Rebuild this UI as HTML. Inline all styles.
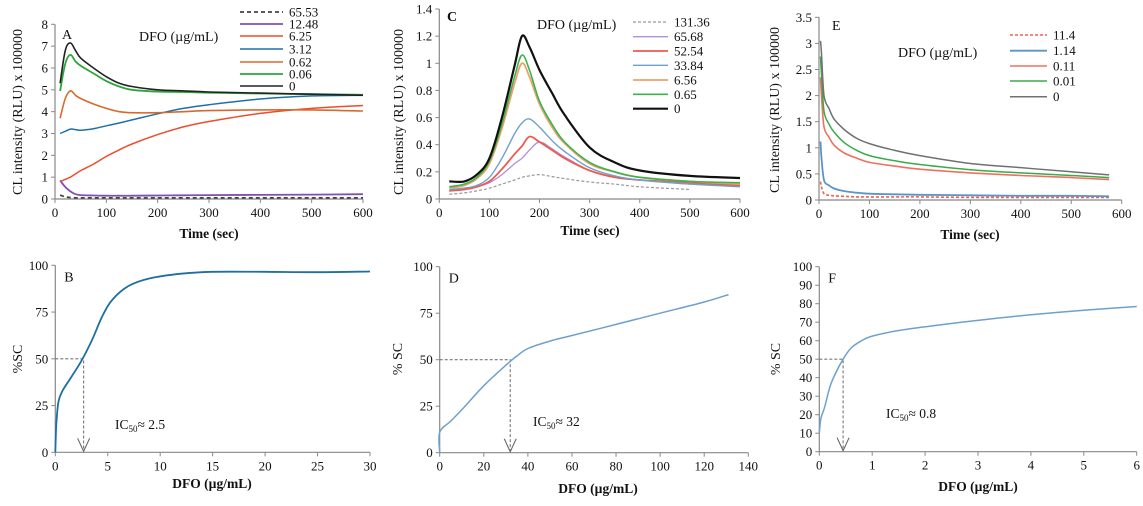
<!DOCTYPE html>
<html><head><meta charset="utf-8"><style>
html,body{margin:0;padding:0;background:#fff;width:1143px;height:506px;overflow:hidden}
svg{display:block;font-family:"Liberation Serif",serif}
</style></head><body>
<svg id="fig" width="1143" height="506" viewBox="0 0 1143 506"></svg>
<script>
// ---------- Panel A data ----------
const aTimes=[10,20,30,40,50,75,100,125,150,200,250,300,400,500,600];
const aNames=["65.53","12.48","6.25","3.12","0.62","0.06","0"];
const a0=[5.3,6.8,7.15,6.8,6.45,6.0,5.6,5.3,5.15,5.0,4.95,4.9,4.85,4.8,4.75];
const a006=[4.95,6.2,6.6,6.3,6.1,5.75,5.4,5.15,5.0,4.92,4.9,4.87,4.83,4.8,4.77];
const a062=[3.7,4.6,4.95,4.75,4.6,4.35,4.15,4.0,3.95,3.95,4.0,4.05,4.08,4.08,4.03];
const a312=[3.0,3.1,3.2,3.18,3.15,3.22,3.35,3.48,3.62,3.9,4.15,4.32,4.58,4.72,4.75];
const a625=[0.8,0.9,1.0,1.15,1.3,1.6,1.95,2.25,2.52,2.95,3.3,3.55,3.92,4.15,4.28];
const a1248=[0.85,0.55,0.35,0.22,0.18,0.16,0.15,0.15,0.15,0.16,0.17,0.18,0.19,0.2,0.22];
const a6553=[0.18,0.1,0.07,0.05,0.05,0.05,0.05,0.05,0.05,0.05,0.05,0.05,0.05,0.05,0.05];
const aXTicks=[0,100,200,300,400,500,600];
const aYTicks=[0,1,2,3,4,5,6,7,8];
// ---------- Panel C data ----------
const cTimes=[20,50,75,100,125,150,165,180,200,225,250,300,350,400,500,600];
const cNames=["131.36","65.68","52.54","33.84","6.56","0.65","0"];
const c0=[0.13,0.13,0.18,0.3,0.6,0.98,1.2,1.12,0.95,0.78,0.62,0.38,0.27,0.21,0.17,0.155];
const c065=[0.09,0.11,0.16,0.28,0.55,0.9,1.06,0.95,0.72,0.55,0.42,0.27,0.2,0.16,0.13,0.12];
const c656=[0.08,0.1,0.15,0.26,0.52,0.85,1.0,0.9,0.7,0.53,0.41,0.26,0.2,0.16,0.13,0.11];
const c3384=[0.07,0.08,0.1,0.16,0.3,0.48,0.56,0.59,0.53,0.43,0.35,0.23,0.17,0.14,0.11,0.09];
const c5254=[0.06,0.07,0.09,0.13,0.22,0.33,0.39,0.46,0.42,0.36,0.3,0.21,0.16,0.14,0.12,0.1];
const c6568=[0.06,0.07,0.09,0.12,0.18,0.26,0.3,0.36,0.42,0.37,0.31,0.21,0.16,0.14,0.11,0.1];
const c13136=[0.035,0.045,0.06,0.08,0.11,0.14,0.16,0.17,0.18,0.165,0.15,0.125,0.11,0.09,0.07,null];
const cXTicks=[0,100,200,300,400,500,600];
const cYTicks=[0,0.2,0.4,0.6,0.8,1,1.2,1.4];
// ---------- Panel E data ----------
const eTimes=[3,5,10,20,30,50,75,100,150,200,300,400,500,575];
const eNames=["11.4","1.14","0.11","0.01","0"];
const e0=[3.05,2.8,2.0,1.75,1.55,1.35,1.18,1.08,0.95,0.85,0.7,0.62,0.54,0.48];
const e001=[2.75,2.4,1.7,1.45,1.3,1.1,0.95,0.85,0.75,0.68,0.58,0.52,0.47,0.43];
const e011=[2.35,2.0,1.4,1.2,1.05,0.9,0.8,0.72,0.65,0.59,0.52,0.47,0.43,0.39];
const e114=[1.12,0.8,0.38,0.28,0.22,0.17,0.14,0.12,0.11,0.1,0.09,0.08,0.08,0.07];
const e114b=[0.35,0.25,0.12,0.09,0.08,0.07,0.06,0.06,0.06,0.06,0.05,0.05,0.05,0.05];
const eXTicks=[0,100,200,300,400,500,600];
const eYTicks=[0,0.5,1,1.5,2,2.5,3,3.5];
// ---------- Panel B/D/F data ----------
const bX=[0,0.1,0.3,0.7,1.5,2.5,3.5,4.5,5.5,7,9,12,15,20,25,30];
const bY=[0,15,27,33,40,49,60,73,82,89,93,95.5,96.5,96.5,96.3,96.7];
const bIC50=[2.7];
const bXTicks=[0,5,10,15,20,25,30];
const bYTicks=[0,25,50,75,100];
const dX=[0,0,5,10,20,30,35,40,50,60,80,100,120,131];
const dY=[0,11,17,23,36,47,52,56,60,63,69,75,81,85];
const dIC50=[32];
const dXTicks=[0,20,40,60,80,100,120,140];
const dYTicks=[0,25,50,75,100];
const fX=[0,0.03,0.1,0.2,0.3,0.45,0.6,0.8,1,1.5,2,3,4,5,6];
const fY=[10,18,24,35,42,50,56,60,62.5,65.5,67.5,71,74,76.5,78.5];
const fIC50=[0.45];
const fXTicks=[0,1,2,3,4,5,6];
const fYTicks=[0,10,20,30,40,50,60,70,80,90,100];

const NS="http://www.w3.org/2000/svg";
const svg=document.getElementById('fig');
function mk(tag,attrs,parent,txt){const e=document.createElementNS(NS,tag);for(const k in attrs)e.setAttribute(k,attrs[k]);if(txt!==undefined)e.textContent=txt;(parent||svg).appendChild(e);return e;}
function scale(d0,d1,r0,r1){return v=>r0+(v-d0)/(d1-d0)*(r1-r0);}
function fmt(v){return String(v);}

function axes(g,sx,sy,xT,yT,x0,y0,x1,y1,name){
  const ax=mk('line',{x1:x0,y1:y0,x2:x1,y2:y0,stroke:'#888','stroke-width':1.2},g);
  
  
  const ay=mk('line',{x1:x0,y1:y0,x2:x0,y2:y1,stroke:'#888','stroke-width':1.2},g);
  
  
  xT.forEach(v=>{
    mk('line',{x1:sx(v),y1:y0,x2:sx(v),y2:y0+4,stroke:'#888'},g);
    const t=mk('text',{x:sx(v),y:y0+18,'text-anchor':'middle','font-size':13,fill:'#111'},g,fmt(v));
    
    
  });
  yT.forEach(v=>{
    mk('line',{x1:x0-4,y1:sy(v),x2:x0,y2:sy(v),stroke:'#888'},g);
    const t=mk('text',{x:x0-7,y:sy(v)+4.5,'text-anchor':'end','font-size':13,fill:'#111'},g,fmt(v));
    
    
  });
}
function smoothPath(pts){
  if(pts.length<2)return '';
  let d='M'+pts[0][0].toFixed(1)+' '+pts[0][1].toFixed(1);
  for(let i=0;i<pts.length-1;i++){
    const p0=pts[i-1]||pts[i],p1=pts[i],p2=pts[i+1],p3=pts[i+2]||p2;
    const t=0.17;
    const c1=[p1[0]+(p2[0]-p0[0])*t,p1[1]+(p2[1]-p0[1])*t];
    const c2=[p2[0]-(p3[0]-p1[0])*t,p2[1]-(p3[1]-p1[1])*t];
    d+=`C${c1[0].toFixed(1)} ${c1[1].toFixed(1)} ${c2[0].toFixed(1)} ${c2[1].toFixed(1)} ${p2[0].toFixed(1)} ${p2[1].toFixed(1)}`;
  }
  return d;
}
function line(g,xs,ys,sx,sy,color,w,dash,name){
  const pts=[];
  xs.forEach((x,i)=>{if(ys[i]===null||ys[i]===undefined)return;pts.push([sx(x),sy(ys[i])]);});
  const p=mk('path',{d:smoothPath(pts),fill:'none',stroke:color,'stroke-width':w,'stroke-linejoin':'round'},g);
  if(dash)p.setAttribute('stroke-dasharray',dash);
  
  
}
function legend(g,x0,x1,ys,names,colors,widths,dashes,pname){
  names.forEach((n,i)=>{
    const l=mk('line',{x1:x0,y1:ys[i],x2:x1,y2:ys[i],stroke:colors[i],'stroke-width':widths[i]},g);
    if(dashes[i])l.setAttribute('stroke-dasharray',dashes[i]);
    
    
    const t=mk('text',{x:x1+6,y:ys[i]+4.5,'font-size':13,fill:'#111'},g,n);
    
    
  });
}
function txt(g,x,y,s,size,name,extra){const t=mk('text',Object.assign({x:x,y:y,'font-size':size,fill:'#111'},extra||{}),g,s);return t;}
function ylab(g,x,y,s,name,bold){const t=mk('text',{x:0,y:0,'font-size':14,fill:'#111','text-anchor':'middle',transform:`translate(${x},${y}) rotate(-90)`,'font-weight':bold?'bold':'normal','xml:space':'preserve'},g,s);}

// ===== Panel A =====
{
const g=mk('g',{});


const sx=scale(0,600,55,363),sy=scale(0,8,199,24.3);
axes(g,sx,sy,aXTicks,aYTicks,55,199,363,24.3,'panel-a');
const series=[a6553,a1248,a625,a312,a062,a006,a0];
const cols=['#444','#7f4fb5','#ef4b2c','#1f6fa8','#d8692e','#2ca63a','#222'];
const ws=[1.8,1.8,1.5,1.5,1.6,1.8,1.6];
const ds=['4,3',null,null,null,null,null,null];
series.forEach((s,i)=>line(g,aTimes,s,sx,sy,cols[i],ws[i],ds[i],'panel-a-series-'+aNames[i]));
legend(g,240,283,[12,24,36,49,62,74,86],aNames,cols,ws,ds,'panel-a');
txt(g,62,39,'A',14,'panel-a-label');
txt(g,139,41,'DFO (µg/mL)',14,'panel-a-legend-title');
ylab(g,22,112,'CL intensity (RLU)   x 100000','panel-a-y-axis-title');
txt(g,209,238,'Time (sec)',13.5,'panel-a-x-axis-title',{'text-anchor':'middle','font-weight':'bold'});
}
// ===== Panel C =====
{
const g=mk('g',{});


const sx=scale(0,600,439.3,740),sy=scale(0,1.4,199,9);
axes(g,sx,sy,cXTicks,cYTicks,439.3,199,740,9,'panel-c');
const series=[c13136,c6568,c5254,c3384,c656,c065,c0];
const cols=['#999','#b28fd6','#ef5a50','#6fa0cc','#efa070','#3ab54a','#111'];
const ws=[1.2,1.3,1.8,1.4,1.8,1.6,2.2];
const ds=['3,2',null,null,null,null,null,null];
series.forEach((s,i)=>line(g,cTimes,s,sx,sy,cols[i],ws[i],ds[i],'panel-c-series-'+cNames[i]));
legend(g,633,668,[22,36.7,51,65.3,80,94.3,108.7],cNames,cols,ws,ds,'panel-c');
txt(g,447,21,'C',14,'panel-c-label',{'font-weight':'bold'});
txt(g,537,29,'DFO (µg/mL)',14,'panel-c-legend-title');
ylab(g,403,112,'CL intensity (RLU)    x 100000','panel-c-y-axis-title');
txt(g,590,235,'Time (sec)',13.5,'panel-c-x-axis-title',{'text-anchor':'middle','font-weight':'bold'});
}
// ===== Panel E =====
{
const g=mk('g',{});


const sx=scale(0,600,819,1121.7),sy=scale(0,3.5,200,17.3);
axes(g,sx,sy,eXTicks,eYTicks,819,200,1121.7,17.3,'panel-e');
const series=[e114b,e114,e011,e001,e0];
const cols=['#f06050','#5b95c8','#f07060','#3aaa4a','#707070'];
const ws=[1.6,1.8,1.6,1.5,1.5];
const ds=['3,2',null,null,null,null];
series.forEach((s,i)=>line(g,eTimes,s,sx,sy,cols[i],ws[i],ds[i],'panel-e-series-'+eNames[i]));
legend(g,1010,1047,[35,50.7,66,81,96.7],eNames,cols,ws,ds,'panel-e');
txt(g,832,30,'E',14,'panel-e-label');
txt(g,898,57,'DFO (µg/mL)',14,'panel-e-legend-title');
ylab(g,779,110,'CL intensity (RLU) x 100000','panel-e-y-axis-title');
txt(g,970,239,'Time (sec)',13.5,'panel-e-x-axis-title',{'text-anchor':'middle','font-weight':'bold'});
}
// ===== Bottom panels =====
function bottom(pn,label,X,Y,ic,xT,yT,xmax,x0,x1,y0,y1,color,w,icText,icx,icy,ylx,ylt,titleX,titleY){
  const g=mk('g',{});
  
  
  const sx=scale(0,xmax,x0,x1),sy=scale(0,100,y0,y1);
  axes(g,sx,sy,xT,yT,x0,y0,x1,y1,'panel-'+pn);
  const icv=ic[0];
  const hl=mk('path',{d:`M${x0} ${sy(50)}H${sx(icv)}V${y0-1}`,fill:'none',stroke:'#777','stroke-width':1.1,'stroke-dasharray':'3,2'},g);
  
  
  const ar=mk('path',{d:`M${sx(icv)-6} ${y0-14}L${sx(icv)} ${y0-1}L${sx(icv)+6} ${y0-14}`,fill:'none',stroke:'#666','stroke-width':1.1},g);
  
  
  line(g,X,Y,sx,sy,color,w,null,'panel-'+pn+'-curve');
  txt(g,x0+9,y1+16,label,14,'panel-'+pn+'-label');
  const t=txt(g,icx,icy,'IC',13.5,'panel-'+pn+'-ic50-annotation');
  mk('tspan',{'font-size':9,dy:3},t,'50');
  mk('tspan',{dy:-3},t,'≈ '+icText);
  ylab(g,ylx,359,ylt,'panel-'+pn+'-y-axis-title');
  txt(g,titleX,titleY,'DFO (µg/mL)',13.5,'panel-'+pn+'-x-axis-title',{'text-anchor':'middle','font-weight':'bold'});
}
bottom('b','B',bX,bY,bIC50,bXTicks,bYTicks,30,55.3,370,452.3,265.3,'#1f6fa0',1.8,'2.5',115,429,22,'%SC',212,488);
bottom('d','D',dX,dY,dIC50,dXTicks,dYTicks,140,439.7,748.3,452.7,266.7,'#6fa0cc',1.5,'32',533,426,402,'% SC',598,493);
bottom('f','F',fX,fY,fIC50,fXTicks,fYTicks,6,819.3,1136.7,451.7,266.7,'#6fa0cc',1.5,'0.8',886,418,780,'% SC',978,491);
</script>
</body></html>
